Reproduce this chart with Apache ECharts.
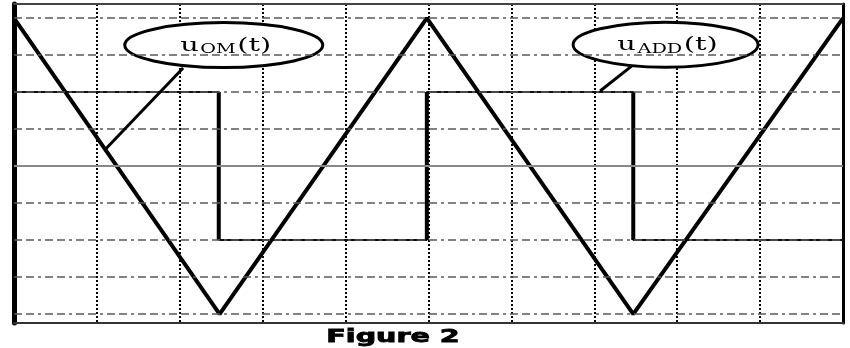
<!DOCTYPE html>
<html>
<head>
<meta charset="utf-8">
<script src="https://cdn.jsdelivr.net/npm/echarts@6/dist/echarts.min.js"></script>
<style>
  html, body { margin: 0; padding: 0; background: #fff; }
  #chart { width: 850px; height: 348px; }
</style>
</head>
<body>
<div id="chart"></div>
<script>
// Time axis in screen divisions, voltage axis in vertical divisions.
const triTimes  = [0, 2.48, 4.98, 7.47, 10];
const triValues = [4, -4, 4, -4, 4];

const sqTimes  = [0, 2.47, 2.47, 4.98, 4.98, 7.47, 7.47, 10];
const sqValues = [2, 2, -2, -2, 2, 2, -2, -2];

const hGridValues = [4, 3, 2, 1, 0, -1, -2, -3, -4];

// Callout bubbles: subscript text, bubble centre, leader start and end (data units)
const calloutSubs    = ['OM', 'ADD'];
const calloutCenters = [[2.53, 3.27], [7.86, 3.28]];
const leaderFrom     = [[2.04, 2.65], [7.45, 2.70]];
const leaderTo       = [[1.10, 0.45], [7.07, 2.03]];

const titleText = 'Figure 2';

const triData = triTimes.map((t, i) => [t, triValues[i]]);
const sqData  = sqTimes.map((t, i) => [t, sqValues[i]]);

// vertical transitions of the square wave, drawn heavier than the flats
const edgeData = [];
for (let i = 1; i < sqTimes.length; i++) {
  if (sqTimes[i] === sqTimes[i - 1]) {
    edgeData.push([sqTimes[i - 1], sqValues[i - 1]], [sqTimes[i], sqValues[i]], [sqTimes[i], '-']);
  }
}

const gridLines = hGridValues.map(v => ({
  yAxis: v,
  lineStyle: v === 0
    ? { color: '#888', width: 2, type: 'solid' }
    : { color: '#5a5a5a', width: 1.5, type: [8, 4, 8, 4, 3, 4] }
}));

const leaders = leaderFrom.map((p, i) => [{ coord: p }, { coord: leaderTo[i] }]);

const chart = echarts.init(document.getElementById('chart'), null, { renderer: 'canvas' });

chart.setOption({
  animation: false,
  backgroundColor: '#fff',
  grid: { left: 14, right: 7, top: 4, bottom: 25, containLabel: false },
  xAxis: [
    {
      type: 'value', min: 0, max: 10, interval: 1, position: 'bottom',
      axisLine: { show: true, onZero: false, lineStyle: { color: '#333', width: 2 } },
      axisTick: { show: false }, axisLabel: { show: false },
      splitLine: { show: true, lineStyle: { color: '#000', width: 2, type: [2, 2] } }
    },
    {
      type: 'value', min: 0, max: 10, position: 'top',
      axisLine: { show: true, onZero: false, lineStyle: { color: '#444', width: 2 } },
      axisTick: { show: false }, axisLabel: { show: false }, splitLine: { show: false }
    }
  ],
  yAxis: [
    {
      type: 'value', min: -4.24, max: 4.38, position: 'left',
      axisLine: { show: true, onZero: false, lineStyle: { color: '#000', width: 5 } },
      axisTick: { show: false }, axisLabel: { show: false }, splitLine: { show: false }
    },
    {
      type: 'value', min: -4.24, max: 4.38, position: 'right',
      axisLine: { show: true, onZero: false, lineStyle: { color: '#000', width: 3 } },
      axisTick: { show: false }, axisLabel: { show: false }, splitLine: { show: false }
    }
  ],
  series: [
    {
      name: 'grid', type: 'line', data: [], z: 1, silent: true,
      markLine: { silent: true, symbol: 'none', label: { show: false }, animation: false, data: gridLines }
    },
    {
      name: 'uADD', type: 'line', data: sqData, z: 3, symbol: 'none',
      lineStyle: { color: '#111', width: 2 }
    },
    {
      name: 'uADD edges', type: 'line', data: edgeData, z: 3, symbol: 'none', connectNulls: false,
      lineStyle: { color: '#000', width: 4 }
    },
    {
      name: 'uOM', type: 'line', data: triData, z: 4, symbol: 'none',
      lineStyle: { color: '#000', width: 4 },
      markLine: {
        silent: true, symbol: ['none', 'rect'], symbolSize: [0, 4], label: { show: false },
        lineStyle: { color: '#000', width: 3, type: 'solid' }, data: leaders
      }
    }
  ]
});

// Callout bubbles placed from their data coordinates
const bubbleSizes = [[198, 45], [185, 45]];
const bubbles = calloutCenters.map((c, i) => {
  const p = chart.convertToPixel({ gridIndex: 0 }, c);
  return {
    type: 'group', x: p[0], y: p[1], z: 100,
    children: [
      {
        type: 'ellipse',
        shape: { cx: 0, cy: 0, rx: bubbleSizes[i][0] / 2, ry: bubbleSizes[i][1] / 2 },
        style: { fill: '#fff', stroke: '#000', lineWidth: 3 }
      },
      {
        type: 'text', x: 2, y: 1, scaleX: 1.6,
        style: {
          text: '{u|u}{s|' + calloutSubs[i] + '}{u|(t)}',
          align: 'center', verticalAlign: 'middle',
          fontFamily: 'DejaVu Serif', fill: '#000',
          rich: {
            u: { fontSize: 18, fontFamily: 'DejaVu Serif', lineHeight: 22, verticalAlign: 'middle', fill: '#000' },
            s: { fontSize: 12, fontFamily: 'DejaVu Serif', padding: [8, 1, 0, 1], lineHeight: 22, verticalAlign: 'middle', fill: '#000' }
          }
        }
      }
    ]
  };
});

bubbles.push({
  type: 'text', x: 393, y: 338, scaleX: 1.68, z: 100,
  style: {
    text: titleText, align: 'center', verticalAlign: 'middle',
    fontFamily: 'DejaVu Sans', fontWeight: 'bold', fontSize: 17,
    fill: '#000', stroke: '#000', lineWidth: 0.8
  }
});

chart.setOption({ graphic: bubbles });
</script>
</body>
</html>
